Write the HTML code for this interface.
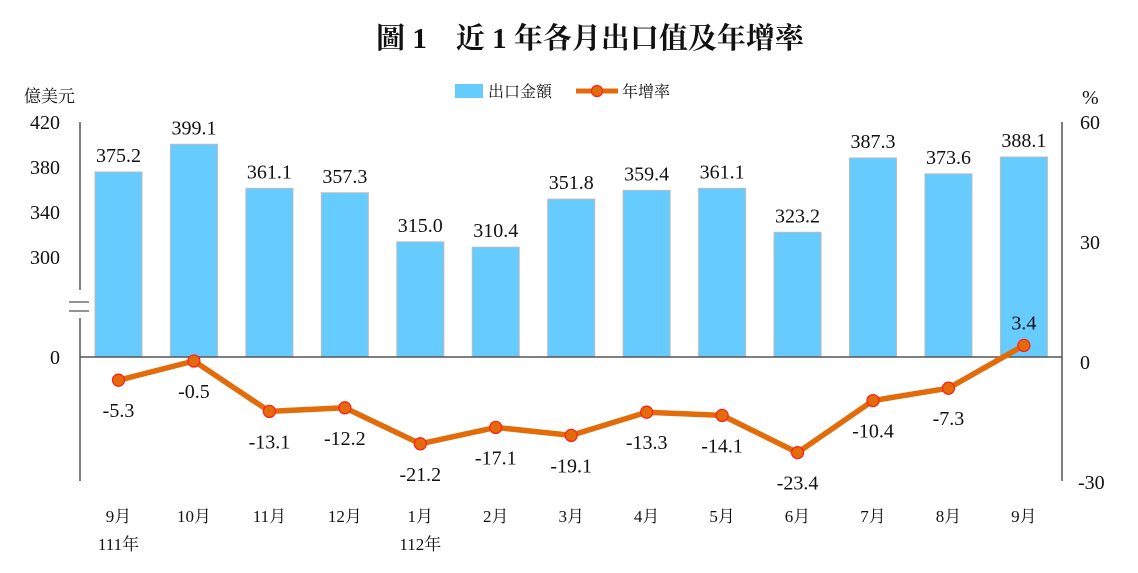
<!DOCTYPE html>
<html><head><meta charset="utf-8"><style>
body{margin:0;background:#fff;width:1138px;height:568px;overflow:hidden}
</style></head><body>
<svg width="1138" height="568" xmlns="http://www.w3.org/2000/svg" font-family="'Liberation Serif','Noto Serif CJK SC',serif" fill="#111">
<text x="590" y="48" text-anchor="middle" font-size="29" font-weight="bold" font-family="'Liberation Serif','Noto Serif CJK SC','Noto Sans CJK TC',serif">圖 1　近 1 年各月出口值及年增率</text>
<text x="24" y="102" font-size="17" font-family="'Liberation Serif','Noto Serif CJK SC',serif">億美元</text>
<text x="1082" y="104" font-size="20">%</text>
<rect x="455" y="84" width="28" height="14" fill="#66CCFF"/>
<text x="488" y="97" font-size="16" font-family="'Liberation Serif','Noto Serif CJK SC',serif">出口金額</text>
<line x1="576" y1="91" x2="618" y2="91" stroke="#E36C0A" stroke-width="5"/>
<circle cx="597" cy="91" r="5.5" fill="#E36C0A" stroke="#FF2020" stroke-width="1.2"/>
<text x="622" y="97" font-size="16" font-family="'Liberation Serif','Noto Serif CJK SC',serif">年增率</text>
<line x1="80" y1="122" x2="80" y2="290" stroke="#555" stroke-width="1.5"/>
<line x1="80" y1="318" x2="80" y2="481" stroke="#555" stroke-width="1.5"/>
<line x1="69" y1="302" x2="89" y2="302" stroke="#555" stroke-width="1.2"/>
<line x1="69" y1="311" x2="89" y2="311" stroke="#555" stroke-width="1.2"/>
<line x1="1062" y1="122" x2="1062" y2="481" stroke="#555" stroke-width="1.5"/>
<g font-size="20" text-anchor="end">
<text x="60" y="129">420</text><text x="60" y="174">380</text><text x="60" y="219">340</text><text x="60" y="264">300</text><text x="60" y="364">0</text>
</g>
<g font-size="20">
<text x="1080" y="129">60</text><text x="1080" y="249">30</text><text x="1080" y="369">0</text><text x="1078" y="489">-30</text>
</g>
<g id="bars" fill="#66CCFF" stroke="#bbb" stroke-width="1"></g>
<line x1="80" y1="357" x2="1062" y2="357" stroke="#555" stroke-width="1.5"/>
<g id="line"></g>
<g id="labels" font-size="20" text-anchor="middle"></g>
</svg>
<script>
(function(){
var v=[375.2,399.1,361.1,357.3,315.0,310.4,351.8,359.4,361.1,323.2,387.3,373.6,388.1];
var r=[-5.3,-0.5,-13.1,-12.2,-21.2,-17.1,-19.1,-13.3,-14.1,-23.4,-10.4,-7.3,3.4];
var m=["9月","10月","11月","12月","1月","2月","3月","4月","5月","6月","7月","8月","9月"];
var ns="http://www.w3.org/2000/svg";
function el(t,a,p,txt){var e=document.createElementNS(ns,t);for(var k in a)e.setAttribute(k,a[k]);if(txt)e.textContent=txt;document.getElementById(p).appendChild(e);return e;}
var pts=[];
var cj="'Liberation Serif','Noto Serif CJK SC',serif";
for(var i=0;i<13;i++){
 var cx=118.5+i*75.45;
 var bt=172-(v[i]-375.2)*1.16;
 el("rect",{x:cx-23.5,y:bt,width:47,height:357-bt},"bars");
 el("text",{x:cx,y:bt-10},"labels",v[i].toFixed(1));
 var y=359-r[i]*4.0;
 pts.push([cx,y]);
 var ly = r[i]>0 ? y-16 : y+37;
 el("text",{x:cx,y:ly},"labels",r[i].toFixed(1));
 el("text",{x:cx,y:522,"font-size":"17","font-family":cj},"labels",m[i]);
}
el("text",{x:118.5,y:550,"font-size":"17","font-family":cj},"labels","111年");
el("text",{x:118.5+4*75.45,y:550,"font-size":"17","font-family":cj},"labels","112年");
el("polyline",{points:pts.map(function(p){return p.join(",")}).join(" "),fill:"none",stroke:"#E36C0A","stroke-width":"5.5","stroke-linejoin":"round"},"line");
pts.forEach(function(p){el("circle",{cx:p[0],cy:p[1],r:6,fill:"#E36C0A",stroke:"#FF2020","stroke-width":"1.3"},"line");});
})();
</script>
</body></html>
